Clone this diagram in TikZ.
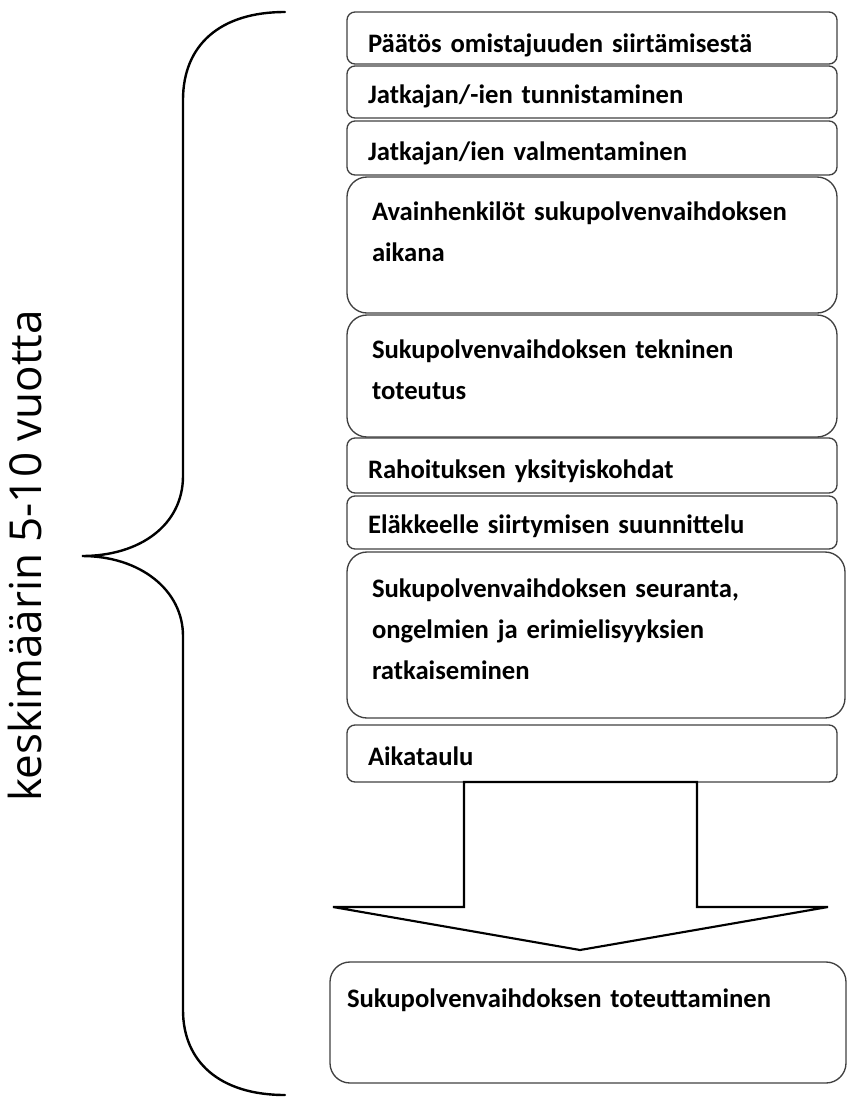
\documentclass[tikz,border=0pt]{standalone}
\usepackage{fontspec}
\setmainfont{Carlito}
\newfontfamily\sidefont{Open Sans}
\usetikzlibrary{calc}

\begin{document}
\begin{tikzpicture}[x=0.75pt, y=-0.75pt,
  stage/.style={draw=black!75, line width=1pt, rounded corners=6pt, anchor=north west,
    inner xsep=15.75pt, inner ysep=0pt, outer sep=0pt, text width=336pt, align=left,
    font=\fontsize{20pt}{31pt}\selectfont\bfseries},
  tallstage/.style={stage, rounded corners=15pt, inner xsep=18.75pt, text width=330pt},
  bracket line/.style={line width=1.8pt, line cap=round},
  blockarrow/.style={draw=black, line width=1.6pt, fill=white, line join=miter}]
\useasboundingbox (0,0) rectangle (847,1097);
% the steps
\node[stage, text height=30pt, text depth=9pt] (b1) at (347,12) {Päätös omistajuuden siirtämisestä};
\node[stage, text height=27.75pt, text depth=11.25pt] (b2) at (347,66) {Jatkajan/-ien tunnistaminen};
\node[stage, text height=29.25pt, text depth=11.25pt] (b3) at (347,121) {Jatkajan/ien valmentaminen};
\node[tallstage, text height=32.25pt, text depth=69.75pt] (b4) at (347,177) {Avainhenkilöt sukupolvenvaihdoksen\\aikana};
\node[tallstage, text height=32.25pt, text depth=59.25pt] (b5) at (347,315) {Sukupolvenvaihdoksen tekninen\\toteutus};
\node[stage, text height=30pt, text depth=11.25pt] (b6) at (347,438) {Rahoituksen yksityiskohdat};
\node[stage, text height=27.75pt, text depth=12pt] (b7) at (347,496) {Eläkkeelle siirtymisen suunnittelu};
\node[tallstage, text height=33.75pt, text depth=90.75pt, text width=336pt] (b8) at (347,552) {Sukupolvenvaihdoksen seuranta,\\ongelmien ja erimielisyyksien\\ratkaiseminen};
\node[stage, text height=30pt, text depth=12.75pt] (b9) at (347,725) {Aikataulu};
% result
\node[tallstage, inner xsep=12.75pt, text width=361.5pt, text height=33.75pt, text depth=57pt] (done) at (330,962) {Sukupolvenvaihdoksen toteuttaminen};
% big arrow
\draw[blockarrow] ($(b9.south west)+(117,0)$) -- ++(0,125) -- ++(-131,0)
  -- ($(done.north)+(-8,-12)$) -- ($(b9.south west)+(481,125)$) -- ++(-131,0)
  -- ($(b9.south west)+(350,0)$) -- cycle;
% brace and its label
\draw[bracket line] (285,12) .. controls (220,12) and (183,45) .. (183,100) -- (183,476)
  .. controls (183,525) and (140,556) .. (82,556)
  .. controls (140,556) and (183,590) .. (183,636) -- (183,1010)
  .. controls (183,1062) and (220,1095) .. (285,1095);
\node[rotate=90, font=\sidefont\fontsize{33pt}{38pt}\selectfont] (period) at (25,556) {keskimäärin 5-10 vuotta};
\end{tikzpicture}
\end{document}
